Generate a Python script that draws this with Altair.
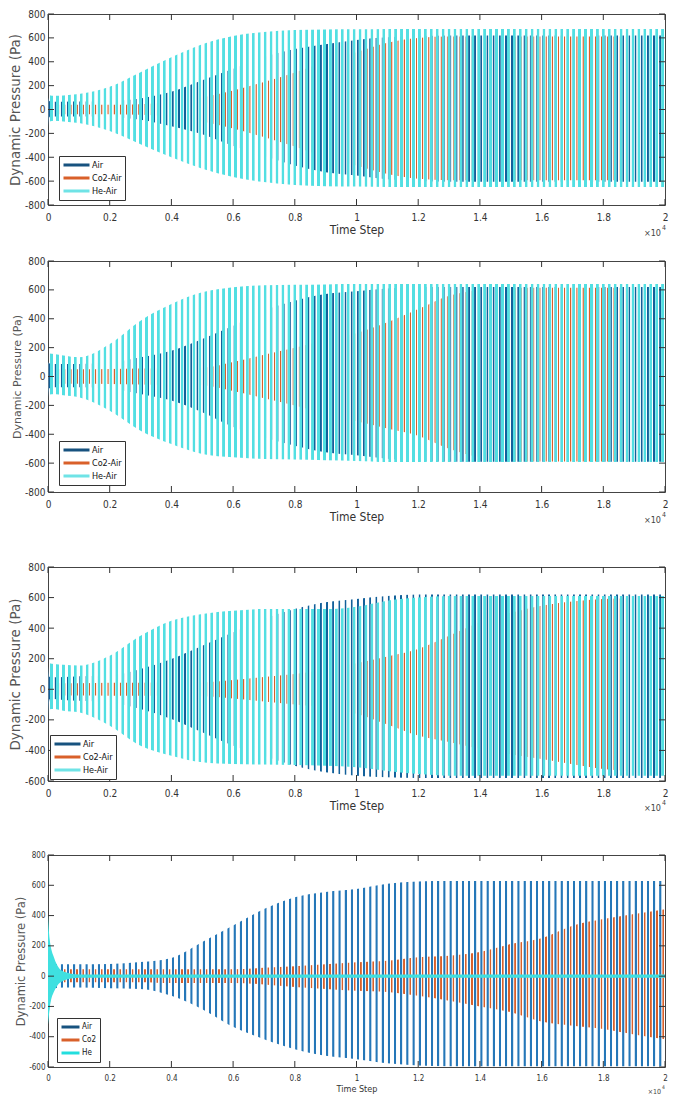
import altair as alt
import pandas as pd

# ---------------- data ----------------
# time steps at which the oscillation envelopes were read
T = [0, 50, 200, 500, 1000, 2000, 3000, 4000, 5000, 6000, 7000, 8000, 9000, 10000,
     11000, 12000, 13000, 14000, 15000, 16000, 17000, 18000, 19000, 20000]

X_TICKS = [0, 2000, 4000, 6000, 8000, 10000, 12000, 14000, 16000, 18000, 20000]

# panel 1
air_hi_1 = [100, 70, 65, 65, 66, 70, 93, 148, 245, 341, 437, 506, 547, 583, 605, 615, 620, 620, 620, 620, 620, 620, 620, 620]
air_lo_1 = [-150, -60, -58, -58, -58, -62, -85, -140, -208, -305, -388, -470, -525, -553, -585, -598, -605, -605, -605, -605, -605, -605, -605, -605]
co2_hi_1 = [40, 40, 40, 40, 40, 40, 45, 60, 100, 160, 230, 310, 400, 480, 560, 600, 612, 612, 612, 612, 612, 612, 612, 612]
co2_lo_1 = [-250, -60, -40, -40, -40, -40, -45, -60, -100, -160, -230, -310, -400, -470, -540, -580, -592, -592, -592, -592, -592, -592, -592, -592]
he_hi_1 = [300, 120, 115, 118, 129, 190, 313, 437, 547, 616, 650, 665, 670, 672, 675, 675, 675, 675, 675, 675, 675, 675, 675, 675]
he_lo_1 = [-200, -100, -95, -100, -113, -181, -291, -401, -497, -566, -608, -632, -642, -646, -650, -650, -650, -650, -650, -650, -650, -650, -650, -650]

# panel 2
air_hi_2 = [100, 90, 87, 87, 87, 95, 133, 179, 260, 352, 456, 525, 571, 590, 610, 620, 620, 620, 620, 620, 620, 620, 620, 620]
air_lo_2 = [-150, -80, -75, -75, -75, -85, -121, -167, -248, -350, -421, -479, -525, -545, -570, -585, -590, -590, -590, -590, -590, -590, -590, -590]
co2_hi_2 = [50, 50, 50, 50, 50, 52, 55, 58, 60, 100, 150, 200, 250, 300, 375, 467, 560, 600, 615, 615, 615, 615, 615, 615]
co2_lo_2 = [-280, -80, -50, -50, -50, -52, -55, -58, -60, -100, -150, -200, -260, -310, -360, -410, -500, -560, -588, -588, -588, -588, -588, -588]
he_hi_2 = [350, 160, 156, 145, 133, 225, 387, 502, 583, 618, 632, 636, 638, 640, 640, 640, 640, 640, 640, 640, 640, 640, 640, 640]
he_lo_2 = [-150, -125, -121, -130, -144, -237, -375, -468, -537, -560, -571, -575, -580, -585, -592, -592, -592, -592, -592, -592, -592, -592, -592, -592]

# panel 3
air_hi_3 = [150, 80, 78, 80, 85, 89, 133, 198, 285, 373, 460, 525, 569, 591, 610, 620, 620, 620, 620, 620, 620, 620, 620, 620]
air_lo_3 = [-200, -65, -63, -70, -75, -85, -129, -194, -281, -369, -434, -500, -543, -565, -575, -580, -580, -580, -580, -580, -580, -580, -580, -580]
co2_hi_3 = [40, 40, 40, 40, 40, 42, 43, 44, 45, 60, 80, 100, 130, 170, 215, 264, 350, 440, 500, 547, 575, 590, 598, 603]
co2_lo_3 = [-300, -100, -40, -40, -40, -42, -43, -44, -45, -60, -80, -100, -120, -160, -230, -303, -345, -390, -425, -456, -490, -521, -533, -541]
he_hi_3 = [400, 170, 165, 160, 155, 220, 351, 449, 493, 514, 525, 525, 525, 540, 580, 600, 610, 610, 610, 610, 610, 610, 610, 610]
he_lo_3 = [-100, -130, -129, -140, -151, -238, -369, -434, -478, -489, -492, -495, -500, -510, -535, -555, -565, -565, -565, -565, -565, -565, -565, -565]

# panel 4
air_hi_4 = [260, 150, 80, 78, 78, 80, 93, 120, 225, 335, 443, 521, 556, 575, 610, 625, 628, 628, 628, 628, 628, 628, 628, 628]
air_lo_4 = [-300, -200, -80, -75, -75, -80, -85, -130, -218, -335, -416, -482, -526, -548, -575, -590, -595, -595, -595, -595, -595, -595, -595, -595]
co2_hi_4 = [40, 40, 45, 45, 45, 45, 45, 45, 45, 45, 55, 65, 78, 92, 102, 125, 135, 160, 212, 250, 333, 377, 410, 442]
co2_lo_4 = [-350, -200, -40, -40, -40, -40, -40, -45, -45, -45, -55, -72, -85, -97, -105, -130, -162, -200, -238, -300, -327, -349, -385, -416]
he_hi_4 = [400, 250, 120, 30, 11, 11, 11, 11, 11, 11, 11, 11, 11, 11, 11, 11, 11, 11, 11, 11, 11, 11, 11, 11]
he_lo_4 = [-320, -220, -100, -30, -11, -11, -11, -11, -11, -11, -11, -11, -11, -11, -11, -11, -11, -11, -11, -11, -11, -11, -11, -11]

NAMES_A = ["Air", "Co2-Air", "He-Air"]
NAMES_B = ["Air", "Co2", "He"]

# ---------------- styling ----------------
AIR = "#12609a"
AIR_4 = "#2577b8"
CO2 = "#d9602a"
HE = "#52dfe2"
LEG_COLORS = ["#17527f", "#d9602a", "#6fe3e6"]
LEG_COLORS_4 = ["#17527f", "#d9602a", "#22dede"]
NARROW = "Liberation Sans Narrow, DejaVu Sans Condensed, sans-serif"
WIDE = "DejaVu Sans, sans-serif"
W = 617


def stripe_fill(color, n, duty, phase):
    clear = "rgba(255,255,255,0)"
    soft = 0.12
    stops = []
    for k in range(n):
        s = (k + phase) / n
        e = (k + phase + duty) / n
        stops += [
            alt.GradientStop(offset=round(s, 6), color=clear),
            alt.GradientStop(offset=round(s + soft / n, 6), color=color),
            alt.GradientStop(offset=round(e - soft / n, 6), color=color),
            alt.GradientStop(offset=round(e, 6), color=clear),
        ]
    return alt.Gradient(gradient="linear", stops=stops, x1=0, x2=1, y1=0, y2=0)


def panel(names, arrays, height, ydom, yticks, fills, leg_colors, legend_xy,
          tick_fs, title_fs, xtitle_fs, font, ytitle_font, sup_dy, top_gap=None):
    rows = []
    for name, (hi, lo) in zip(names, arrays):
        for t, h, l in zip(T, hi, lo):
            rows.append({"t": t, "series": name, "lo": l, "hi": h})
    df = pd.DataFrame(rows)

    xscale = alt.Scale(domain=[0, 20000], nice=False, zero=False)
    yscale = alt.Scale(domain=ydom, nice=False, zero=False)
    xaxis = alt.Axis(values=X_TICKS, labelExpr="datum.value / 10000", title="Time Step",
                     labelPadding=7, titlePadding=2, labelFontSize=tick_fs,
                     titleFontSize=xtitle_fs, labelFont=font, titleFont=font,
                     labelFlush=False, tickSize=0, labelOverlap=False)
    yaxis = alt.Axis(values=yticks, labelExpr="'' + datum.value", title="Dynamic Pressure (Pa)",
                     labelPadding=3, titlePadding=2, labelFontSize=tick_fs,
                     titleFontSize=title_fs, labelFont=font, titleFont=ytitle_font,
                     labelFlush=False, tickSize=0, labelOverlap=False, titleColor="#555")

    base = alt.Chart(df).encode(
        x=alt.X("t:Q", scale=xscale, axis=xaxis),
        y=alt.Y("lo:Q", scale=yscale, axis=yaxis),
        y2="hi:Q",
    )
    layers = []
    for name, fill in zip(names, fills):
        layers.append(
            base.transform_filter(alt.datum.series == name)
            .mark_area(interpolate="monotone", fill=fill, strokeWidth=0)
        )

    legend = alt.Chart(df).mark_line(opacity=0).encode(
        x=alt.X("t:Q", scale=xscale, axis=xaxis),
        y=alt.Y("lo:Q", scale=yscale, axis=yaxis),
        color=alt.Color(
            "series:N",
            title=None,
            scale=alt.Scale(domain=names, range=leg_colors),
            legend=alt.Legend(
                orient="none", legendX=legend_xy[0], legendY=legend_xy[1],
                symbolType="stroke", symbolSize=legend_xy[2] ** 2, clipHeight=12,
                symbolStrokeWidth=3, symbolOpacity=1, labelFont=font,
                labelFontSize=legend_xy[3], labelColor="#111", labelOffset=1,
                padding=3, rowPadding=1, fillColor="white", strokeColor="#333",
                labelLimit=80,
            ),
        ),
    )

    xt = pd.DataFrame({"t": X_TICKS})
    yt = pd.DataFrame({"lo": yticks})
    tick_style = dict(color="#333", strokeWidth=1)
    xt_bottom = alt.Chart(xt).mark_rule(**tick_style).encode(
        x=alt.X("t:Q", scale=xscale, axis=xaxis), y=alt.value(height), y2=alt.value(height - 6))
    xt_top = alt.Chart(xt).mark_rule(**tick_style).encode(
        x=alt.X("t:Q", scale=xscale, axis=xaxis), y=alt.value(0), y2=alt.value(6))
    yt_left = alt.Chart(yt).mark_rule(**tick_style).encode(
        y=alt.Y("lo:Q", scale=yscale, axis=yaxis), x=alt.value(0), x2=alt.value(6))
    yt_right = alt.Chart(yt).mark_rule(**tick_style).encode(
        y=alt.Y("lo:Q", scale=yscale, axis=yaxis), x=alt.value(W), x2=alt.value(W - 6))

    one = pd.DataFrame({"k": [0]})
    times = alt.Chart(one).mark_text(align="right", baseline="middle", fontSize=tick_fs - 1,
                                     font=font, color="#444").encode(
        text=alt.value("×10"), x=alt.value(W - 4), y=alt.value(height + sup_dy))
    sup = alt.Chart(one).mark_text(align="left", baseline="middle", fontSize=tick_fs - 3,
                                   font=font, color="#444").encode(
        text=alt.value("4"), x=alt.value(W - 3), y=alt.value(height + sup_dy - 5))

    props = dict(width=W, height=height)
    if top_gap is not None:
        props["title"] = alt.TitleParams(" ", fontSize=top_gap[0], offset=top_gap[1])
    return alt.layer(*layers, legend, xt_bottom, xt_top, yt_left, yt_right, times, sup).properties(**props)


fills_abc = [stripe_fill(AIR, 100, 0.44, 0.0), stripe_fill(CO2, 100, 0.34, 0.56), stripe_fill(HE, 104, 0.6, 0.3)]
fills_d = [stripe_fill(AIR_4, 100, 0.5, 0.0), stripe_fill(CO2, 100, 0.42, 0.5), "#3fe0e0"]

p1 = panel(NAMES_A, [(air_hi_1, air_lo_1), (co2_hi_1, co2_lo_1), (he_hi_1, he_lo_1)],
           191, [-800, 800], [-800, -600, -400, -200, 0, 200, 400, 600, 800],
           fills_abc, LEG_COLORS, (11, 142, 26, 9), 10, 13.5, 12, NARROW, WIDE, 28)
p2 = panel(NAMES_A, [(air_hi_2, air_lo_2), (co2_hi_2, co2_lo_2), (he_hi_2, he_lo_2)],
           231, [-800, 800], [-800, -600, -400, -200, 0, 200, 400, 600, 800],
           fills_abc, LEG_COLORS, (11, 180, 26, 9), 10, 11, 12, NARROW, WIDE, 28)
p3 = panel(NAMES_A, [(air_hi_3, air_lo_3), (co2_hi_3, co2_lo_3), (he_hi_3, he_lo_3)],
           214, [-600, 800], [-600, -400, -200, 0, 200, 400, 600, 800],
           fills_abc, LEG_COLORS, (2, 168, 26, 9), 10, 13.5, 12, NARROW, WIDE, 27, top_gap=(10, 9))
p4 = panel(NAMES_B, [(air_hi_4, air_lo_4), (co2_hi_4, co2_lo_4), (he_hi_4, he_lo_4)],
           212, [-600, 800], [-600, -400, -200, 0, 200, 400, 600, 800],
           fills_d, LEG_COLORS_4, (9, 163, 18, 8), 8, 11.5, 9, NARROW, WIDE, 25, top_gap=(10, 10))

chart = (
    alt.vconcat(p1, p2, p3, p4, spacing=16)
    .resolve_scale(color="independent", x="independent", y="independent")
    .properties(padding={"left": 0, "top": 0, "right": 0, "bottom": 0}, background="white")
    .configure_view(stroke="#444", strokeWidth=1)
    .configure_axis(grid=False, domain=False, ticks=False, labelColor="#333",
                    titleColor="#333", titleFontWeight="normal")
)

chart.save("out.html", embed_options={"renderer": "svg", "actions": False})
